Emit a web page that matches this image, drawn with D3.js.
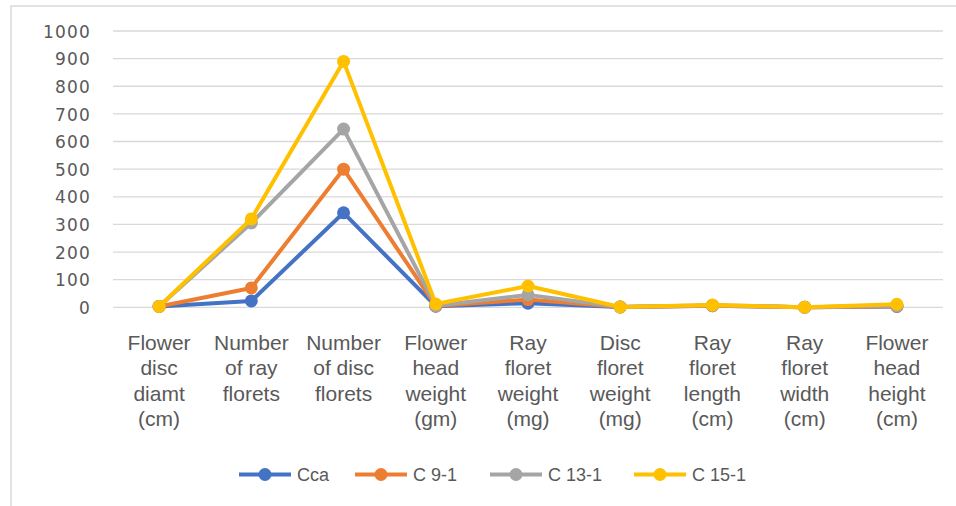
<!DOCTYPE html>
<html><head><meta charset="utf-8">
<script src="https://cdn.jsdelivr.net/npm/d3@7"></script>
<style>
body{margin:0;background:#fff;}
svg{display:block;}
</style></head>
<body>
<svg id="c" width="956" height="506"></svg>
<script>
const categories = [
  ["Flower","disc","diamt","(cm)"],
  ["Number","of ray","florets"],
  ["Number","of disc","florets"],
  ["Flower","head","weight","(gm)"],
  ["Ray","floret","weight","(mg)"],
  ["Disc","floret","weight","(mg)"],
  ["Ray","floret","length","(cm)"],
  ["Ray","floret","width","(cm)"],
  ["Flower","head","height","(cm)"]
];
const seriesNames = ["Cca","C 9-1","C 13-1","C 15-1"];
const cca   = [3, 23, 342, 4, 15, 1, 6, 0.5, 3];
const c91   = [3, 70, 500, 5, 28, 1, 6, 0.5, 4];
const c131  = [3, 305, 645, 6, 45, 1, 7, 0.5, 6];
const c151  = [3, 320, 890, 12, 77, 1, 8, 0.5, 11];
const yTicks = [0,100,200,300,400,500,600,700,800,900,1000];
const colors = ["#4472C4","#ED7D31","#A5A5A5","#FFC000"];
const seriesValues = [cca, c91, c131, c151];

const svg = d3.select("#c");
// outer frame
svg.append("rect").attr("x",11).attr("y",6).attr("width",960).attr("height",520)
  .attr("fill","none").attr("stroke","#d9d9d9").attr("stroke-width",1.5);

const x = d3.scaleBand().domain(d3.range(categories.length)).range([113,943]);
const y = d3.scaleLinear().domain([0,1000]).range([307.3,31]);

// gridlines
svg.append("g").selectAll("line").data(yTicks).join("line")
  .attr("x1",113).attr("x2",943)
  .attr("y1",d=>y(d)).attr("y2",d=>y(d))
  .attr("stroke","#d9d9d9").attr("stroke-width",1.3);

// y axis labels
const yAxis = d3.axisLeft(y).tickValues(yTicks).tickFormat(d3.format("d")).tickSize(0).tickPadding(0);
const ya = svg.append("g").attr("transform","translate(91,0)").call(yAxis);
ya.select(".domain").remove();
ya.selectAll("text").attr("font-family","'DejaVu Sans', Verdana, sans-serif")
  .attr("font-size",17).attr("fill","#595959").attr("letter-spacing","1.2px")
  .attr("dy","0.36em");

// x category labels
const xg = svg.append("g");
categories.forEach((lines,i)=>{
  const cx = x(i)+x.bandwidth()/2;
  const t = xg.append("text").attr("x",cx).attr("y",349.5)
    .attr("text-anchor","middle").attr("font-family","'Liberation Sans', Arial, sans-serif")
    .attr("font-size",21).attr("fill","#595959");
  lines.forEach((l,j)=>{
    t.append("tspan").attr("x",cx).attr("y",349.5+j*25.5).text(l);
  });
});

// lines
const line = d3.line().x((d,i)=>x(i)+x.bandwidth()/2).y(d=>y(d));
seriesValues.forEach((vals,s)=>{
  const g = svg.append("g");
  g.append("path").attr("d",line(vals)).attr("fill","none")
    .attr("stroke",colors[s]).attr("stroke-width",4).attr("stroke-linejoin","round");
  g.selectAll("circle").data(vals).join("circle")
    .attr("cx",(d,i)=>x(i)+x.bandwidth()/2).attr("cy",d=>y(d)).attr("r",6.5)
    .attr("fill",colors[s]);
});

// legend
const legX = [239, 355, 490, 634];
const lg = svg.append("g");
seriesNames.forEach((n,i)=>{
  const gx = legX[i];
  lg.append("line").attr("x1",gx).attr("x2",gx+52).attr("y1",474.5).attr("y2",474.5)
    .attr("stroke",colors[i]).attr("stroke-width",4);
  lg.append("circle").attr("cx",gx+26).attr("cy",474.5).attr("r",6.5).attr("fill",colors[i]);
  lg.append("text").attr("x",gx+58).attr("y",474.5).attr("dy","0.35em")
    .attr("font-family","'Liberation Sans', Arial, sans-serif")
    .attr("font-size",18).attr("fill","#595959").text(n);
});
</script>
</body></html>
